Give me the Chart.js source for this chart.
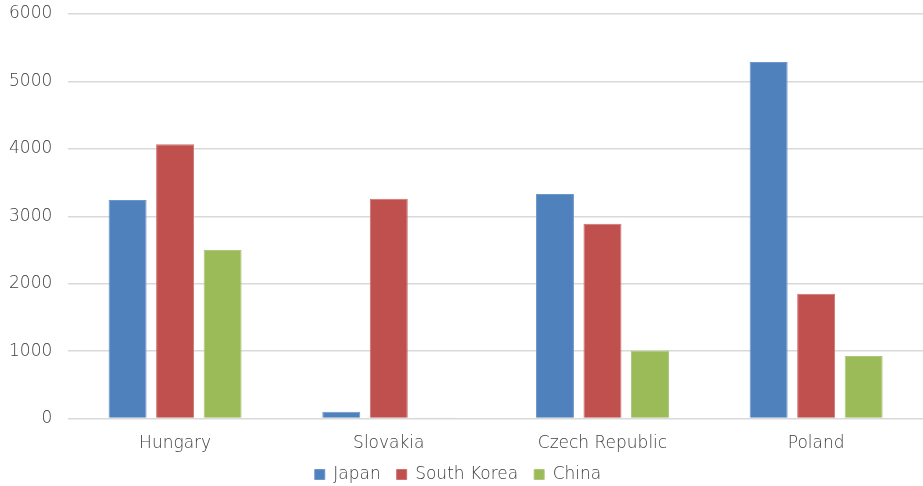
<!DOCTYPE html>
<html>
<head>
<meta charset="utf-8">
<script src="https://cdn.jsdelivr.net/npm/chart.js@4"></script>
<style>
html,body{margin:0;padding:0;background:#fff;}
#wrap{width:923px;height:486px;}
</style>
</head>
<body>
<div id="wrap"><canvas id="c" width="923" height="486"></canvas></div>
<script>
const categories = ["Hungary", "Slovakia", "Czech Republic", "Poland"];
const japan = [3240, 100, 3330, 5290];
const southKorea = [4070, 3260, 2890, 1850];
const china = [2500, 18, 1010, 930];
const yTicks = [0, 1000, 2000, 3000, 4000, 5000, 6000];

const font = "'DejaVu Sans', sans-serif";
const txt = '#404040';
new Chart(document.getElementById('c'), {
  type: 'bar',
  data: {
    labels: categories,
    datasets: [
      {label: 'Japan', data: japan, backgroundColor: '#4f81bd', borderColor: '#6e97c9', borderWidth: 1},
      {label: 'South Korea', data: southKorea, backgroundColor: '#c0504d', borderColor: '#cd7170', borderWidth: 1},
      {label: 'China', data: china, backgroundColor: '#9bbb59', borderColor: '#adc87a', borderWidth: 1}
    ]
  },
  options: {
    responsive: false,
    animation: false,
    devicePixelRatio: 1,
    layout: {padding: {top: 14, right: 0, left: -7, bottom: -7}},
    datasets: {bar: {categoryPercentage: 0.667, barPercentage: 0.8}},
    plugins: {
      legend: {
        position: 'bottom',
        labels: {
          boxWidth: 10, boxHeight: 10, padding: 16,
          color: txt,
          font: {family: font, size: 17, weight: 200}
        }
      },
      tooltip: {enabled: false}
    },
    scales: {
      x: {
        grid: {display: false},
        border: {display: false},
        afterFit: (s) => { s.height -= 11; s._computeLabelArea = () => undefined; },
        ticks: {color: txt, font: {family: font, size: 17, weight: 200}, padding: 7}
      },
      y: {
        min: 0, max: 6000,
        afterBuildTicks: (ax) => { ax.ticks = yTicks.map(v => ({value: v})); },
        afterFit: (s) => { s.paddingTop = 0; s.paddingBottom = 0; },
        grid: {color: '#d9d9d9', lineWidth: 1.5, drawTicks: false},
        border: {display: false},
        ticks: {color: txt, font: {family: font, size: 17, weight: 200}, padding: 16,
                callback: (v) => String(v)}
      }
    }
  }
});
</script>
</body>
</html>
